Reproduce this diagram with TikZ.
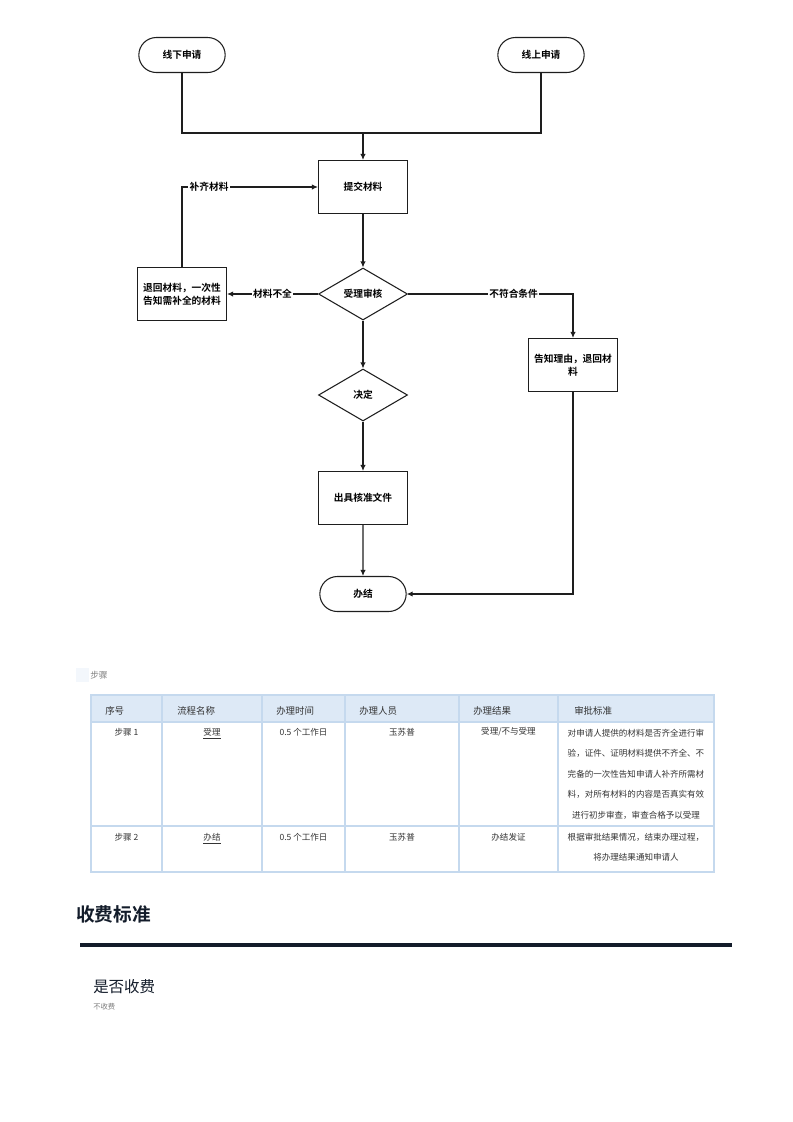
\documentclass[tikz,border=0pt]{standalone}
\usepackage{fontspec}
\setmainfont{Noto Sans CJK SC}[BoldFont={Noto Sans CJK SC Bold}]
\usepackage{tikz}
\usetikzlibrary{shapes.geometric}
\usetikzlibrary{shapes.misc}
\usetikzlibrary{arrows.meta}
\tikzset{>={Latex[length=4.5pt,width=4pt]}}
\definecolor{lineblk}{HTML}{1E1E1E}
\definecolor{tabline}{HTML}{C5D9EE}
\definecolor{tabhead}{HTML}{DDE9F6}
\definecolor{tabtext}{HTML}{333333}
\definecolor{navy}{HTML}{131C2A}
\tikzset{
  flow/.style={draw=lineblk, line width=0.8pt, align=center, inner sep=1pt,
    font=\bfseries\fontsize{7.3}{9.5}\selectfont},
  term/.style={flow, rounded rectangle, minimum width=66.75pt, minimum height=26.25pt},
  proc/.style={flow, rectangle, minimum width=66.75pt, minimum height=39.75pt},
  decis/.style={flow, diamond, minimum width=66.75pt, minimum height=39pt, inner sep=0pt},
  lbl/.style={fill=white, inner sep=1pt, font=\bfseries\fontsize{7.3}{9}\selectfont},
  conn/.style={draw=lineblk, line width=0.8pt},
  head/.style={anchor=west, inner sep=0pt, text=tabtext, font=\fontsize{7.1}{9}\selectfont},
  cell/.style={inner sep=0pt, text=tabtext, align=center, font=\fontsize{6.4}{15.4}\selectfont},
}
\begin{document}
\begin{tikzpicture}[x=0.75pt, y=-0.75pt]
      \useasboundingbox (0,0) rectangle (793,1122);
      % flow chart
      \node (offline) at (182,55) [term] {线下申请};
      \node (online) at (541,55) [term] {线上申请};
      \coordinate (merge) at (363,133);
      \node (submit) at (363,187) [proc] {提交材料};
      \node (review) at (363,294) [decis] {受理审核};
      \node (back) at (182,294) [proc] {退回材料，一次性\\告知需补全的材料};
      \node (reject) at (573,365) [proc] {告知理由，退回材\\料};
      \node (decide) at (363,395) [decis] {决定};
      \node (issue) at (363,498) [proc] {出具核准文件};
      \node (done) at (363,594) [term] {办结};
      \draw[conn] (offline.south) |- (merge) -| (online.south);
      \draw[conn,->] (merge) -- (submit.north);
      \draw[conn,->] (submit) -- (review);
      \draw[conn,->] (review) -- node[lbl] {材料不全} (back);
      \draw[conn,->] (back.north) |- node[lbl,pos=0.6] {补齐材料} (submit.west);
      \draw[conn,->] (review.east) -| node[lbl,pos=0.32] {不符合条件} (reject.north);
      \draw[conn,->] (review) -- (decide);
      \draw[conn,->] (decide) -- (issue);
      \draw[conn,->] (issue) -- (done);
      \draw[conn,->] (reject.south) |- (done.east);
      % table
      \fill[tabhead!35] (76,668) rectangle (89,682);
      \node (steps) at (90,675) [anchor=west, inner sep=0pt, text=gray, font=\fontsize{6.5}{8}\selectfont] {步骤};
      \fill[tabhead] (91,695) rectangle (714,722);
      \draw[tabline, line width=0.9pt] (91,695) rectangle (714,872);
      \draw[tabline, line width=0.9pt] (91,722) -- (714,722);
      \draw[tabline, line width=0.9pt] (91,826) -- (714,826);
      \foreach \x in {162,262,345,459,558}
        \draw[tabline, line width=0.9pt] (\x,695) -- (\x,872);
      \node (h1) at (105,711) [head] {序号};
      \node (h2) at (177,711) [head] {流程名称};
      \node (h3) at (276,711) [head] {办理时间};
      \node (h4) at (359,711) [head] {办理人员};
      \node (h5) at (473,711) [head] {办理结果};
      \node (h6) at (574,711) [head] {审批标准};
      \node (s1) at (126.5,732) [cell] {步骤 1};
      \node (n1) at (212,734) [cell] {\underline{受理}};
      \node (t1) at (303.5,732) [cell] {0.5 个工作日};
      \node (p1) at (402,732) [cell] {玉苏普};
      \node (r1) at (508.5,732) [cell] {受理/不与受理};
      \node (c1) at (636,774) [cell] {对申请人提供的材料是否齐全进行审\\验，证件、证明材料提供不齐全、不\\完备的一次性告知申请人补齐所需材\\料，对所有材料的内容是否真实有效\\进行初步审查，审查合格予以受理};
      \node (s2) at (126.5,837) [cell] {步骤 2};
      \node (n2) at (212,839) [cell] {\underline{办结}};
      \node (t2) at (303.5,837) [cell] {0.5 个工作日};
      \node (p2) at (402,837) [cell] {玉苏普};
      \node (r2) at (508.5,837) [cell] {办结发证};
      \node (c2) at (636,847) [cell] {根据审批结果情况，结束办理过程，\\将办理结果通知申请人};
      % fee
      \node (fee) at (76,914) [anchor=west, inner sep=0pt, text=navy, font=\bfseries\fontsize{14}{16}\selectfont] {收费标准};
      \draw[navy, line width=2.3pt] (80,945) -- (732,945);
      \node (ischarge) at (93,987) [anchor=west, inner sep=0pt, text=navy, font=\fontsize{11.6}{14}\selectfont] {是否收费};
      \node (nocharge) at (93,1007) [anchor=west, inner sep=0pt, text=gray, font=\fontsize{5.5}{7}\selectfont] {不收费};
    \end{tikzpicture}
\end{document}
